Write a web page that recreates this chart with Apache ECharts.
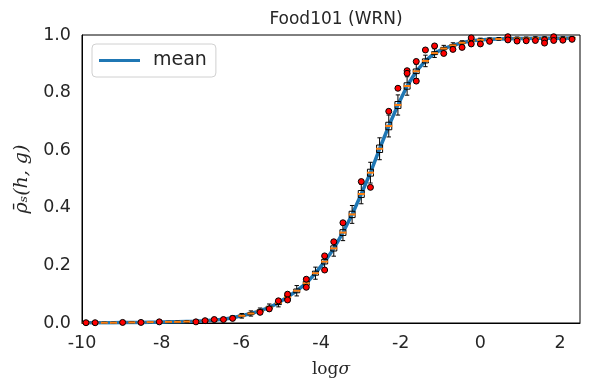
<!DOCTYPE html>
<html>
<head>
<meta charset="utf-8">
<script src="https://cdn.jsdelivr.net/npm/echarts@6/dist/echarts.min.js"></script>
<style>
  html, body { margin: 0; padding: 0; background: #fff; }
  #chart { width: 589px; height: 390px; }
</style>
</head>
<body>
<div id="chart"></div>
<script>
// log sigma grid (one box per position)
const logSigma = [
  -9.90, -9.67, -9.44, -9.21, -8.98, -8.75, -8.52, -8.29, -8.06, -7.83,
  -7.60, -7.37, -7.14, -6.91, -6.68, -6.45, -6.22, -5.99, -5.76, -5.53,
  -5.30, -5.07, -4.84, -4.61, -4.37, -4.14, -3.91, -3.68, -3.45, -3.22,
  -2.99, -2.76, -2.53, -2.30, -2.07, -1.84, -1.61, -1.38, -1.15, -0.92,
  -0.69, -0.46, -0.23, 0.00, 0.23, 0.46, 0.69, 0.92, 1.15, 1.38,
  1.61, 1.84, 2.07, 2.30
];

// mean curve
const meanRho = [
  0.001, 0.001, 0.001, 0.001, 0.002, 0.002, 0.002, 0.003, 0.003, 0.004,
  0.004, 0.005, 0.006, 0.008, 0.010, 0.013, 0.018, 0.025, 0.033, 0.042,
  0.054, 0.070, 0.090, 0.112, 0.138, 0.173, 0.213, 0.259, 0.314, 0.377,
  0.448, 0.522, 0.605, 0.684, 0.757, 0.823, 0.874, 0.910, 0.937, 0.953,
  0.964, 0.973, 0.980, 0.983, 0.985, 0.986, 0.987, 0.988, 0.988, 0.989,
  0.989, 0.989, 0.989, 0.990
];

// box plot stats
const whiskerLow = [
  0.000, 0.000, 0.000, 0.000, 0.000, 0.001, 0.001, 0.001, 0.001, 0.002,
  0.002, 0.002, 0.003, 0.004, 0.005, 0.007, 0.011, 0.017, 0.024, 0.031,
  0.042, 0.056, 0.074, 0.094, 0.118, 0.152, 0.190, 0.232, 0.286, 0.346,
  0.414, 0.486, 0.567, 0.646, 0.722, 0.791, 0.849, 0.890, 0.922, 0.942,
  0.955, 0.966, 0.974, 0.977, 0.980, 0.982, 0.983, 0.984, 0.984, 0.985,
  0.985, 0.985, 0.985, 0.986
];
const q1 = [
  0.001, 0.001, 0.001, 0.001, 0.001, 0.001, 0.002, 0.002, 0.002, 0.003,
  0.003, 0.004, 0.005, 0.006, 0.008, 0.011, 0.015, 0.022, 0.029, 0.038,
  0.049, 0.064, 0.084, 0.105, 0.131, 0.166, 0.205, 0.250, 0.304, 0.366,
  0.436, 0.510, 0.592, 0.671, 0.745, 0.812, 0.866, 0.903, 0.932, 0.949,
  0.961, 0.970, 0.978, 0.981, 0.983, 0.985, 0.986, 0.987, 0.987, 0.988,
  0.988, 0.988, 0.988, 0.989
];
const median = [
  0.001, 0.001, 0.001, 0.001, 0.002, 0.002, 0.002, 0.003, 0.003, 0.004,
  0.004, 0.005, 0.006, 0.008, 0.010, 0.013, 0.018, 0.025, 0.033, 0.042,
  0.054, 0.070, 0.090, 0.112, 0.138, 0.173, 0.213, 0.259, 0.314, 0.377,
  0.448, 0.522, 0.605, 0.684, 0.757, 0.823, 0.874, 0.910, 0.937, 0.953,
  0.964, 0.973, 0.980, 0.983, 0.985, 0.986, 0.987, 0.988, 0.988, 0.989,
  0.989, 0.989, 0.989, 0.990
];
const q3 = [
  0.002, 0.002, 0.002, 0.002, 0.002, 0.003, 0.003, 0.003, 0.004, 0.004,
  0.005, 0.006, 0.007, 0.009, 0.012, 0.015, 0.020, 0.028, 0.036, 0.046,
  0.058, 0.075, 0.096, 0.118, 0.145, 0.180, 0.221, 0.268, 0.324, 0.388,
  0.460, 0.534, 0.618, 0.697, 0.769, 0.834, 0.882, 0.917, 0.942, 0.957,
  0.967, 0.976, 0.982, 0.985, 0.987, 0.988, 0.989, 0.990, 0.990, 0.991,
  0.991, 0.991, 0.991, 0.992
];
const whiskerHigh = [
  0.003, 0.003, 0.003, 0.003, 0.004, 0.004, 0.004, 0.005, 0.005, 0.006,
  0.007, 0.008, 0.009, 0.012, 0.015, 0.019, 0.025, 0.033, 0.042, 0.052,
  0.066, 0.084, 0.106, 0.130, 0.158, 0.194, 0.236, 0.286, 0.342, 0.408,
  0.482, 0.558, 0.643, 0.722, 0.792, 0.855, 0.899, 0.930, 0.952, 0.964,
  0.973, 0.980, 0.986, 0.989, 0.990, 0.991, 0.992, 0.993, 0.993, 0.994,
  0.994, 0.994, 0.994, 0.995
];

// outlier points [logSigma, value]
const fliers = [
  [-9.90, 0.001], [-9.67, 0.001], [-8.98, 0.002], [-8.52, 0.002], [-8.06, 0.004],
  [-7.14, 0.004], [-6.91, 0.008], [-6.68, 0.012], [-6.45, 0.012], [-6.22, 0.016],
  [-5.53, 0.037], [-5.30, 0.049], [-5.07, 0.077], [-4.84, 0.100], [-4.84, 0.080],
  [-4.37, 0.152], [-4.37, 0.124], [-3.91, 0.233], [-3.91, 0.184], [-3.68, 0.282],
  [-3.45, 0.348], [-2.99, 0.491], [-2.76, 0.471], [-2.30, 0.735], [-2.07, 0.815],
  [-1.84, 0.876], [-1.84, 0.867], [-1.61, 0.908], [-1.61, 0.840], [-1.38, 0.948],
  [-1.15, 0.962], [-0.92, 0.936], [-0.69, 0.950], [-0.46, 0.957], [-0.23, 0.990],
  [-0.23, 0.969], [0.00, 0.969], [0.23, 0.978], [0.69, 0.994], [0.69, 0.983],
  [0.92, 0.979], [1.15, 0.980], [1.38, 0.981], [1.61, 0.983], [1.61, 0.972],
  [1.84, 0.994], [1.84, 0.981], [2.07, 0.982], [2.30, 0.985]
];

const chart = echarts.init(document.getElementById('chart'));

const textColor = '#262626';

const option = {
  animation: false,
  title: {
    text: 'Food101 (WRN)',
    left: 331,
    textAlign: 'center',
    top: 6,
    textStyle: { fontFamily: 'DejaVu Sans', fontSize: 17, fontWeight: 'normal', color: textColor }
  },
  legend: {
    data: ['mean'],
    icon: 'rect',
    left: 92,
    top: 44,
    padding: [7, 9, 7, 7],
    borderColor: '#d0d0d0',
    borderWidth: 1,
    borderRadius: 4,
    itemWidth: 41,
    itemHeight: 3,
    textStyle: { fontFamily: 'DejaVu Sans', fontSize: 19, color: textColor, padding: [0, 0, 0, 8] }
  },
  grid: {
    left: 82,
    right: 9,
    top: 35,
    bottom: 67,
    show: true,
    borderColor: '#000',
    borderWidth: 1
  },
  xAxis: {
    type: 'value',
    min: -10,
    max: 2.5,
    interval: 2,
    name: '{r|log}{i|σ}',
    nameLocation: 'middle',
    nameGap: 38,
    nameTextStyle: {
      rich: {
        r: { fontFamily: 'DejaVu Serif', fontSize: 17, color: textColor },
        i: { fontFamily: 'DejaVu Serif', fontStyle: 'italic', fontSize: 17, color: textColor }
      }
    },
    axisLine: { show: true, onZero: false, lineStyle: { color: '#000', width: 1 } },
    axisTick: { show: false },
    splitLine: { show: false },
    axisLabel: {
      showMaxLabel: false,
      margin: 11,
      fontFamily: 'DejaVu Sans',
      fontSize: 17.5,
      color: textColor
    }
  },
  yAxis: {
    type: 'value',
    min: 0,
    max: 1,
    interval: 0.2,
    name: 'ρ̄ₛ(h, g)',
    nameLocation: 'middle',
    nameRotate: 90,
    nameGap: 50,
    nameTextStyle: { fontFamily: 'DejaVu Serif', fontStyle: 'italic', fontSize: 19, color: textColor },
    axisLine: { show: true, onZero: false, lineStyle: { color: '#000', width: 1 } },
    axisTick: { show: false },
    splitLine: { show: false },
    axisLabel: {
      margin: 11,
      fontFamily: 'DejaVu Sans',
      fontSize: 17.5,
      color: textColor,
      formatter: v => v.toFixed(1)
    }
  },
  series: [
    {
      name: 'mean',
      type: 'line',
      symbol: 'none',
      z: 2,
      lineStyle: { color: '#1f77b4', width: 3.5 },
      itemStyle: { color: '#1f77b4' },
      data: logSigma.map((x, i) => [x, meanRho[i]])
    },
    {
      name: 'box',
      type: 'custom',
      z: 3,
      encode: { x: 0, y: [1, 5] },
      data: logSigma.map((x, i) => [x, whiskerLow[i], q1[i], median[i], q3[i], whiskerHigh[i]]),
      renderItem: function (params, api) {
        const x = api.value(0);
        const pLow = api.coord([x, api.value(1)]);
        const pQ1 = api.coord([x, api.value(2)]);
        const pMed = api.coord([x, api.value(3)]);
        const pQ3 = api.coord([x, api.value(4)]);
        const pHigh = api.coord([x, api.value(5)]);
        const cx = pMed[0];
        const bw = 3;
        const cw = 2.2;
        const black = { stroke: '#000', lineWidth: 1, fill: null };
        return {
          type: 'group',
          children: [
            { type: 'line', shape: { x1: cx, y1: pHigh[1], x2: cx, y2: pQ3[1] }, style: black },
            { type: 'line', shape: { x1: cx, y1: pQ1[1], x2: cx, y2: pLow[1] }, style: black },
            { type: 'line', shape: { x1: cx - cw, y1: pHigh[1], x2: cx + cw, y2: pHigh[1] }, style: black },
            { type: 'line', shape: { x1: cx - cw, y1: pLow[1], x2: cx + cw, y2: pLow[1] }, style: black },
            { type: 'rect', shape: { x: cx - bw, y: pQ3[1], width: 2 * bw, height: pQ1[1] - pQ3[1] }, style: black },
            { type: 'line', shape: { x1: cx - bw - 0.5, y1: pMed[1], x2: cx + bw + 0.5, y2: pMed[1] },
              style: { stroke: '#ff7f0e', lineWidth: 2 } }
          ]
        };
      }
    },
    {
      name: 'outliers',
      type: 'scatter',
      z: 4,
      symbolSize: 6,
      itemStyle: { color: '#ff0000', borderColor: '#000', borderWidth: 1, opacity: 1 },
      data: fliers
    }
  ]
};

chart.setOption(option);
</script>
</body>
</html>
